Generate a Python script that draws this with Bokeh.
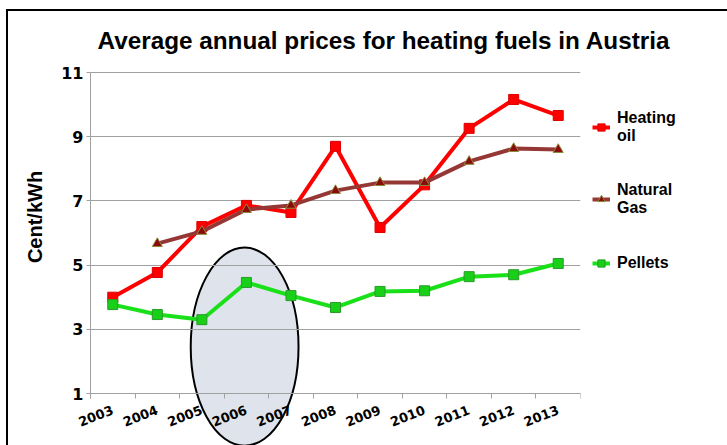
from bokeh.plotting import figure
from bokeh.models import Range1d, LinearAxis, FixedTicker, Legend, LegendItem
from bokeh.embed import file_html
from bokeh.resources import INLINE

years = ["2003", "2004", "2005", "2006", "2007", "2008", "2009", "2010", "2011", "2012", "2013"]
heating_oil = [4.0, 4.77, 6.2, 6.86, 6.64, 8.7, 6.17, 7.5, 9.26, 10.16, 9.66]
gas_years = ["2004", "2005", "2006", "2007", "2008", "2009", "2010", "2011", "2012", "2013"]
natural_gas = [5.67, 6.05, 6.73, 6.86, 7.32, 7.57, 7.57, 8.23, 8.63, 8.6]
pellets = [3.77, 3.46, 3.3, 4.46, 4.05, 3.68, 4.18, 4.2, 4.64, 4.7, 5.05]
y_ticks = [1, 3, 5, 7, 9, 11]

# highlight ellipse (annotation), in axis units
hl_x, hl_y, hl_w, hl_h = 3.46, 2.46, 2.42, 6.17

n = len(years)
centers = [i + 0.5 for i in range(n)]
pos = dict(zip(years, centers))
gas_x = [pos[y] for y in gas_years]

# frame geometry (pixels)
PX_X = 490 / n          # px per category
PX_Y = 32.1             # px per price unit
LEFT_GAP = 82           # frame left edge -> y axis
TOP_GAP = 9             # frame top edge -> top grid line
FRAME_W, FRAME_H = 572, 382

x_start = -LEFT_GAP / PX_X
y_end = y_ticks[-1] + TOP_GAP / PX_Y
y_start = y_end - FRAME_H / PX_Y

p = figure(frame_width=FRAME_W, frame_height=FRAME_H,
           x_range=Range1d(x_start, x_start + FRAME_W / PX_X), y_range=Range1d(y_start, y_end),
           x_axis_location=None, output_backend="svg", toolbar_location=None,
           min_border_left=0, min_border_right=130, min_border_top=52, min_border_bottom=0)
p.styles = {"margin-left": "6px", "margin-top": "9px",
            "border-left": "2px solid black", "border-top": "2px solid black"}
p.outline_line_color = None
p.xgrid.visible = False

p.title.text = "Average annual prices for heating fuels in Austria"
p.title.text_font = "Liberation Sans"
p.title.text_font_style = "bold"
p.title.text_font_size = "24.3px"
p.title.text_color = "black"
p.title.align = "left"
p.title.offset = 89
p.title.standoff = 20

grid_col = "#a0a0a0"
p.ygrid.ticker = FixedTicker(ticks=y_ticks)
p.ygrid.grid_line_color = grid_col
try:
    p.ygrid.cross_bounds = (0, n)
except Exception:
    pass

p.yaxis.fixed_location = 0
p.yaxis.ticker = FixedTicker(ticks=y_ticks)
p.yaxis.bounds = (1, 11)
p.yaxis.axis_line_color = grid_col
p.yaxis.major_tick_line_color = grid_col
p.yaxis.major_tick_out = 4
p.yaxis.major_tick_in = 0
p.yaxis.minor_tick_line_color = None
p.yaxis.major_label_text_font = "DejaVu Sans"
p.yaxis.major_label_text_font_style = "bold"
p.yaxis.major_label_text_font_size = "16px"
p.yaxis.major_label_text_color = "black"
p.yaxis.major_label_standoff = 3

# axis title carried by a bare axis, centred a little higher than the tick span
ax_title = LinearAxis(ticker=FixedTicker(ticks=[]), bounds=(2, 11), fixed_location=0,
                      axis_line_color=None, major_tick_line_color=None, minor_tick_line_color=None,
                      major_tick_out=0, major_label_standoff=0, major_label_text_font_size="0px",
                      axis_label="Cent/kWh", axis_label_text_font="Liberation Sans",
                      axis_label_text_font_style="bold", axis_label_text_font_size="20px",
                      axis_label_text_color="black", axis_label_standoff=45)
p.add_layout(ax_title, "left")

hl = p.ellipse(x=[hl_x], y=[hl_y], width=[hl_w], height=[hl_h],
               fill_color="#dfe4ec", line_color="black", line_width=2)
hl.level = "image"

# category axis: labels at category centres, tick marks at category boundaries
ax_x = LinearAxis(ticker=FixedTicker(ticks=centers, minor_ticks=list(range(n + 1))),
                  major_label_overrides={c: y for c, y in zip(centers, years)},
                  bounds=(0, n), fixed_location=1, axis_line_color=grid_col,
                  major_tick_line_color=None, major_tick_out=0, major_tick_in=0,
                  minor_tick_line_color=grid_col, minor_tick_out=5, minor_tick_in=0,
                  major_label_orientation=0.37, major_label_standoff=11,
                  major_label_text_font="DejaVu Sans", major_label_text_font_style="bold",
                  major_label_text_font_size="13px", major_label_text_color="black")
p.add_layout(ax_x, "below")

l1 = p.line(centers, heating_oil, line_color="#ff0000", line_width=4)
m1 = p.scatter(centers, heating_oil, marker="square", size=10, fill_color="#ff0000", line_color="#dd0000")
l2 = p.line(gas_x, natural_gas, line_color="#953735", line_width=4)
m2 = p.scatter(gas_x, natural_gas, marker="triangle", size=10, fill_color="#8b0a0a", line_color="#8a8a3a")
l3 = p.line(centers, pellets, line_color="#19e019", line_width=4)
m3 = p.scatter(centers, pellets, marker="square", size=10, fill_color="#19d019", line_color="#2a9a2a")

legend = Legend(items=[LegendItem(label="Heating\noil", renderers=[l1, m1]),
                       LegendItem(label="Natural\nGas", renderers=[l2, m2]),
                       LegendItem(label="Pellets", renderers=[l3, m3])],
                location=(12, 172), border_line_color=None, margin=0, padding=5,
                spacing=36, glyph_width=18, label_standoff=7,
                label_text_font="Liberation Sans", label_text_font_style="bold",
                label_text_font_size="16px", label_text_color="black")
p.add_layout(legend, "right")

open("out.html", "w").write(file_html(p, INLINE))
